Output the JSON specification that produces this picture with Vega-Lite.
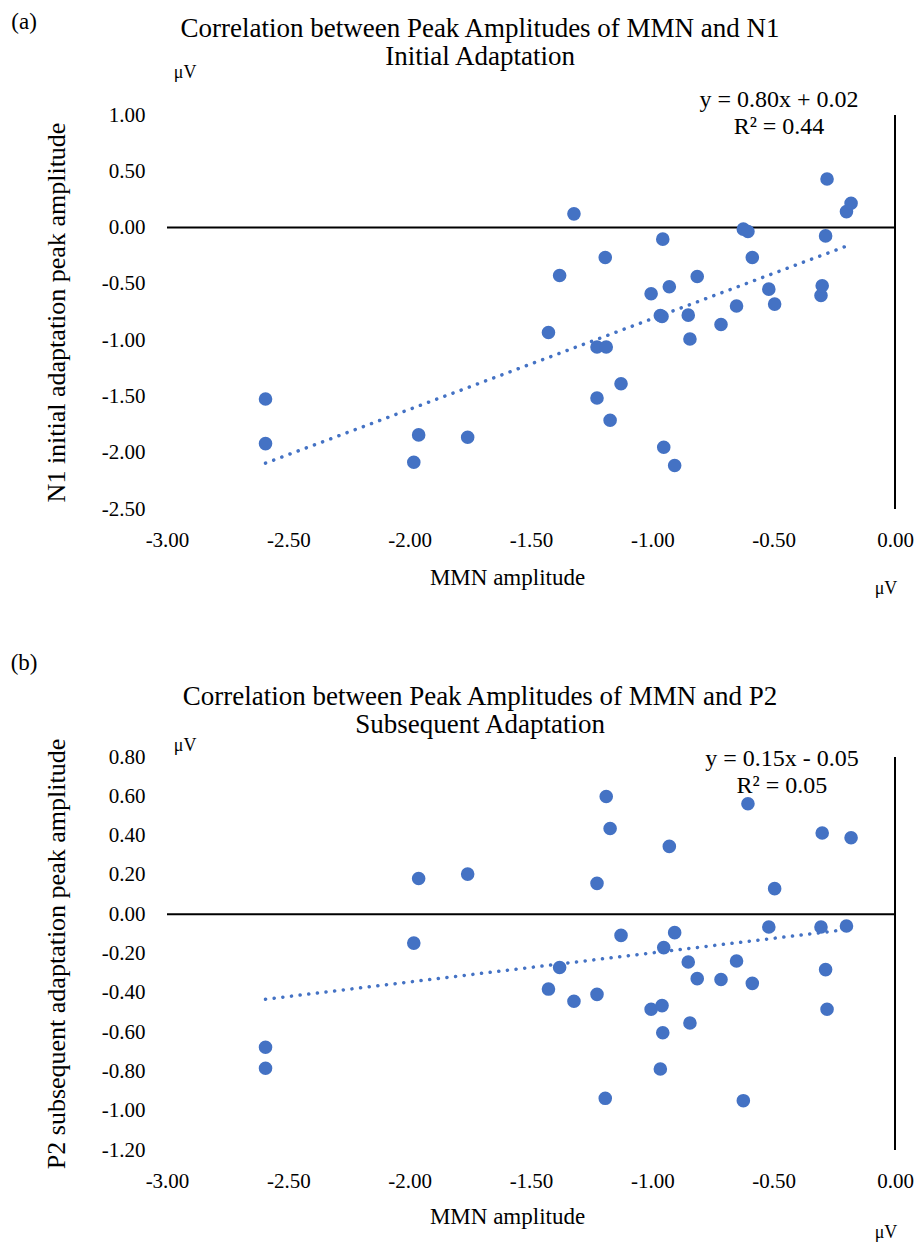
{
  "$schema": "https://vega.github.io/schema/vega-lite/v6.json",
  "padding": {"left": 10, "top": 11, "right": 10, "bottom": 5},
  "background": "white",
  "spacing": 52,
  "config": {
    "font": "Liberation Serif",
    "view": {"stroke": null},
    "axis": {"grid": false, "domain": false, "ticks": false, "labelFont": "Liberation Serif", "titleFont": "Liberation Serif", "labelColor": "#000000", "titleColor": "#000000", "labelFontSize": 21, "titleFontWeight": "normal", "labelFlush": false, "labelOverlap": false},
    "text": {"font": "Liberation Serif", "color": "#000000"}
  },
  "datasets": {
    "subjects": [
      {"mmn": -2.594, "n1": -1.523, "p2": -0.677},
      {"mmn": -2.594, "n1": -1.919, "p2": -0.784},
      {"mmn": -1.983, "n1": -2.085, "p2": -0.147},
      {"mmn": -1.963, "n1": -1.842, "p2": 0.182},
      {"mmn": -1.761, "n1": -1.863, "p2": 0.204},
      {"mmn": -1.428, "n1": -0.932, "p2": -0.381},
      {"mmn": -1.382, "n1": -0.426, "p2": -0.271},
      {"mmn": -1.323, "n1": 0.122, "p2": -0.443},
      {"mmn": -1.228, "n1": -1.061, "p2": 0.157},
      {"mmn": -1.228, "n1": -1.514, "p2": -0.408},
      {"mmn": -1.194, "n1": -0.266, "p2": -0.937},
      {"mmn": -1.190, "n1": -1.061, "p2": 0.599},
      {"mmn": -1.174, "n1": -1.712, "p2": 0.436},
      {"mmn": -1.129, "n1": -1.387, "p2": -0.108},
      {"mmn": -1.005, "n1": -0.588, "p2": -0.484},
      {"mmn": -0.967, "n1": -0.781, "p2": -0.788},
      {"mmn": -0.960, "n1": -0.790, "p2": -0.465},
      {"mmn": -0.957, "n1": -0.103, "p2": -0.603},
      {"mmn": -0.953, "n1": -1.952, "p2": -0.170},
      {"mmn": -0.930, "n1": -0.526, "p2": 0.345},
      {"mmn": -0.908, "n1": -2.114, "p2": -0.094},
      {"mmn": -0.852, "n1": -0.778, "p2": -0.243},
      {"mmn": -0.845, "n1": -0.990, "p2": -0.554},
      {"mmn": -0.815, "n1": -0.435, "p2": -0.328},
      {"mmn": -0.717, "n1": -0.861, "p2": -0.332},
      {"mmn": -0.653, "n1": -0.697, "p2": -0.238},
      {"mmn": -0.625, "n1": -0.014, "p2": -0.949},
      {"mmn": -0.606, "n1": -0.035, "p2": 0.562},
      {"mmn": -0.588, "n1": -0.266, "p2": -0.352},
      {"mmn": -0.520, "n1": -0.547, "p2": -0.065},
      {"mmn": -0.496, "n1": -0.680, "p2": 0.130},
      {"mmn": -0.305, "n1": -0.603, "p2": -0.065},
      {"mmn": -0.300, "n1": -0.517, "p2": 0.413},
      {"mmn": -0.286, "n1": -0.074, "p2": -0.282},
      {"mmn": -0.280, "n1": 0.432, "p2": -0.484},
      {"mmn": -0.200, "n1": 0.142, "p2": -0.060},
      {"mmn": -0.181, "n1": 0.216, "p2": 0.389}
    ]
  },
  "vconcat": [
    {
      "width": 728,
      "height": 394,
      "data": {"name": "subjects"},
      "layer": [
        {"data": {"values": [{}]}, "mark": {"type": "rule", "color": "#000000", "strokeWidth": 2}, "encoding": {"y": {"datum": 0, "type": "quantitative", "scale": {"domain": [-2.5, 1], "nice": false, "zero": false}}}},
        {"data": {"values": [{}]}, "mark": {"type": "rule", "color": "#000000", "strokeWidth": 2}, "encoding": {"x": {"datum": 0, "type": "quantitative", "scale": {"domain": [-3, 0], "nice": false, "zero": false}}}},
        {
          "mark": {"type": "circle", "size": 185, "opacity": 1, "color": "#4472C4"},
          "encoding": {
            "x": {"field": "mmn", "type": "quantitative", "scale": {"domain": [-3, 0], "nice": false, "zero": false},
              "axis": {"title": "MMN amplitude", "values": [-3, -2.5, -2, -1.5, -1, -0.5, 0], "tickCount": 20, "labelExpr": "replace(format(datum.value, '.2f'), '\u2212', '-')", "labelPadding": 20, "titleFontSize": 23, "titlePadding": 16, "titleX": 340, "labelOverlap": false, "labelFlush": false}},
            "y": {"field": "n1", "type": "quantitative", "scale": {"domain": [-2.5, 1], "nice": false, "zero": false},
              "axis": {"title": "N1 initial adaptation peak amplitude", "values": [-2.5, -2, -1.5, -1, -0.5, 0, 0.5, 1], "tickCount": 20, "labelExpr": "replace(format(datum.value, '.2f'), '\u2212', '-')", "labelPadding": 22, "titleFontSize": 26, "titlePadding": 32, "labelOverlap": false}}
          }
        },
        {
          "transform": [{"regression": "n1", "on": "mmn"}],
          "mark": {"type": "line", "color": "#4472C4", "strokeWidth": 3.5, "strokeCap": "round", "strokeDash": [0.1, 8.6]},
          "encoding": {
            "x": {"field": "mmn", "type": "quantitative", "scale": {"domain": [-3, 0], "nice": false, "zero": false}},
            "y": {"field": "n1", "type": "quantitative", "scale": {"domain": [-2.5, 1], "nice": false, "zero": false}}
          }
        },
        {"data": {"values": [{"label": "(a)"}]}, "mark": {"type": "text", "fontSize": 23, "align": "center", "baseline": "middle"},
          "encoding": {"text": {"field": "label"}, "x": {"datum": -3.589, "type": "quantitative"}, "y": {"datum": 1.825, "type": "quantitative"}}},
        {"data": {"values": [{"label": "Correlation between Peak Amplitudes of MMN and N1\nInitial Adaptation"}]}, "mark": {"type": "text", "fontSize": 27, "lineBreak": "\n", "lineHeight": 28, "align": "center", "baseline": "middle"},
          "encoding": {"text": {"field": "label"}, "x": {"datum": -1.71, "type": "quantitative"}, "y": {"datum": 1.763, "type": "quantitative"}}},
        {"data": {"values": [{"label": "μV"}]}, "mark": {"type": "text", "fontSize": 18, "align": "center", "baseline": "middle"},
          "encoding": {"text": {"field": "label"}, "x": {"datum": -2.925, "type": "quantitative"}, "y": {"datum": 1.373, "type": "quantitative"}}},
        {"data": {"values": [{"label": "y = 0.80x + 0.02\nR² = 0.44"}]}, "mark": {"type": "text", "fontSize": 24, "lineBreak": "\n", "lineHeight": 27, "align": "center", "baseline": "middle"},
          "encoding": {"text": {"field": "label"}, "x": {"datum": -0.478, "type": "quantitative"}, "y": {"datum": 1.133, "type": "quantitative"}}},
        {"data": {"values": [{"label": "μV"}]}, "mark": {"type": "text", "fontSize": 18, "align": "center", "baseline": "middle"},
          "encoding": {"text": {"field": "label"}, "x": {"datum": -0.037, "type": "quantitative"}, "y": {"datum": -3.215, "type": "quantitative"}}}
      ]
    },
    {
      "width": 728,
      "height": 393,
      "data": {"name": "subjects"},
      "layer": [
        {"data": {"values": [{}]}, "mark": {"type": "rule", "color": "#000000", "strokeWidth": 2}, "encoding": {"y": {"datum": 0, "type": "quantitative", "scale": {"domain": [-1.2, 0.8], "nice": false, "zero": false}}}},
        {"data": {"values": [{}]}, "mark": {"type": "rule", "color": "#000000", "strokeWidth": 2}, "encoding": {"x": {"datum": 0, "type": "quantitative", "scale": {"domain": [-3, 0], "nice": false, "zero": false}}}},
        {
          "mark": {"type": "circle", "size": 185, "opacity": 1, "color": "#4472C4"},
          "encoding": {
            "x": {"field": "mmn", "type": "quantitative", "scale": {"domain": [-3, 0], "nice": false, "zero": false},
              "axis": {"title": "MMN amplitude", "values": [-3, -2.5, -2, -1.5, -1, -0.5, 0], "tickCount": 20, "labelExpr": "replace(format(datum.value, '.2f'), '\u2212', '-')", "labelPadding": 20, "titleFontSize": 23, "titlePadding": 14, "titleX": 340, "labelOverlap": false, "labelFlush": false}},
            "y": {"field": "p2", "type": "quantitative", "scale": {"domain": [-1.2, 0.8], "nice": false, "zero": false},
              "axis": {"title": "P2 subsequent adaptation peak amplitude", "values": [-1.2, -1, -0.8, -0.6, -0.4, -0.2, 0, 0.2, 0.4, 0.6, 0.8], "tickCount": 20, "labelExpr": "replace(format(datum.value, '.2f'), '\u2212', '-')", "labelPadding": 22, "titleFontSize": 26, "titlePadding": 32, "labelOverlap": false}}
          }
        },
        {
          "transform": [{"regression": "p2", "on": "mmn"}],
          "mark": {"type": "line", "color": "#4472C4", "strokeWidth": 3.5, "strokeCap": "round", "strokeDash": [0.1, 8.6]},
          "encoding": {
            "x": {"field": "mmn", "type": "quantitative", "scale": {"domain": [-3, 0], "nice": false, "zero": false}},
            "y": {"field": "p2", "type": "quantitative", "scale": {"domain": [-1.2, 0.8], "nice": false, "zero": false}}
          }
        },
        {"data": {"values": [{"label": "(b)"}]}, "mark": {"type": "text", "fontSize": 23, "align": "center", "baseline": "middle"},
          "encoding": {"text": {"field": "label"}, "x": {"datum": -3.589, "type": "quantitative"}, "y": {"datum": 1.279, "type": "quantitative"}}},
        {"data": {"values": [{"label": "Correlation between Peak Amplitudes of MMN and P2\nSubsequent Adaptation"}]}, "mark": {"type": "text", "fontSize": 27, "lineBreak": "\n", "lineHeight": 28, "align": "center", "baseline": "middle"},
          "encoding": {"text": {"field": "label"}, "x": {"datum": -1.71, "type": "quantitative"}, "y": {"datum": 1.106, "type": "quantitative"}}},
        {"data": {"values": [{"label": "μV"}]}, "mark": {"type": "text", "fontSize": 18, "align": "center", "baseline": "middle"},
          "encoding": {"text": {"field": "label"}, "x": {"datum": -2.925, "type": "quantitative"}, "y": {"datum": 0.857, "type": "quantitative"}}},
        {"data": {"values": [{"label": "y = 0.15x - 0.05\nR² = 0.05"}]}, "mark": {"type": "text", "fontSize": 24, "lineBreak": "\n", "lineHeight": 27, "align": "center", "baseline": "middle"},
          "encoding": {"text": {"field": "label"}, "x": {"datum": -0.466, "type": "quantitative"}, "y": {"datum": 0.791, "type": "quantitative"}}},
        {"data": {"values": [{"label": "μV"}]}, "mark": {"type": "text", "fontSize": 18, "align": "center", "baseline": "middle"},
          "encoding": {"text": {"field": "label"}, "x": {"datum": -0.037, "type": "quantitative"}, "y": {"datum": -1.62, "type": "quantitative"}}}
      ]
    }
  ]
}
